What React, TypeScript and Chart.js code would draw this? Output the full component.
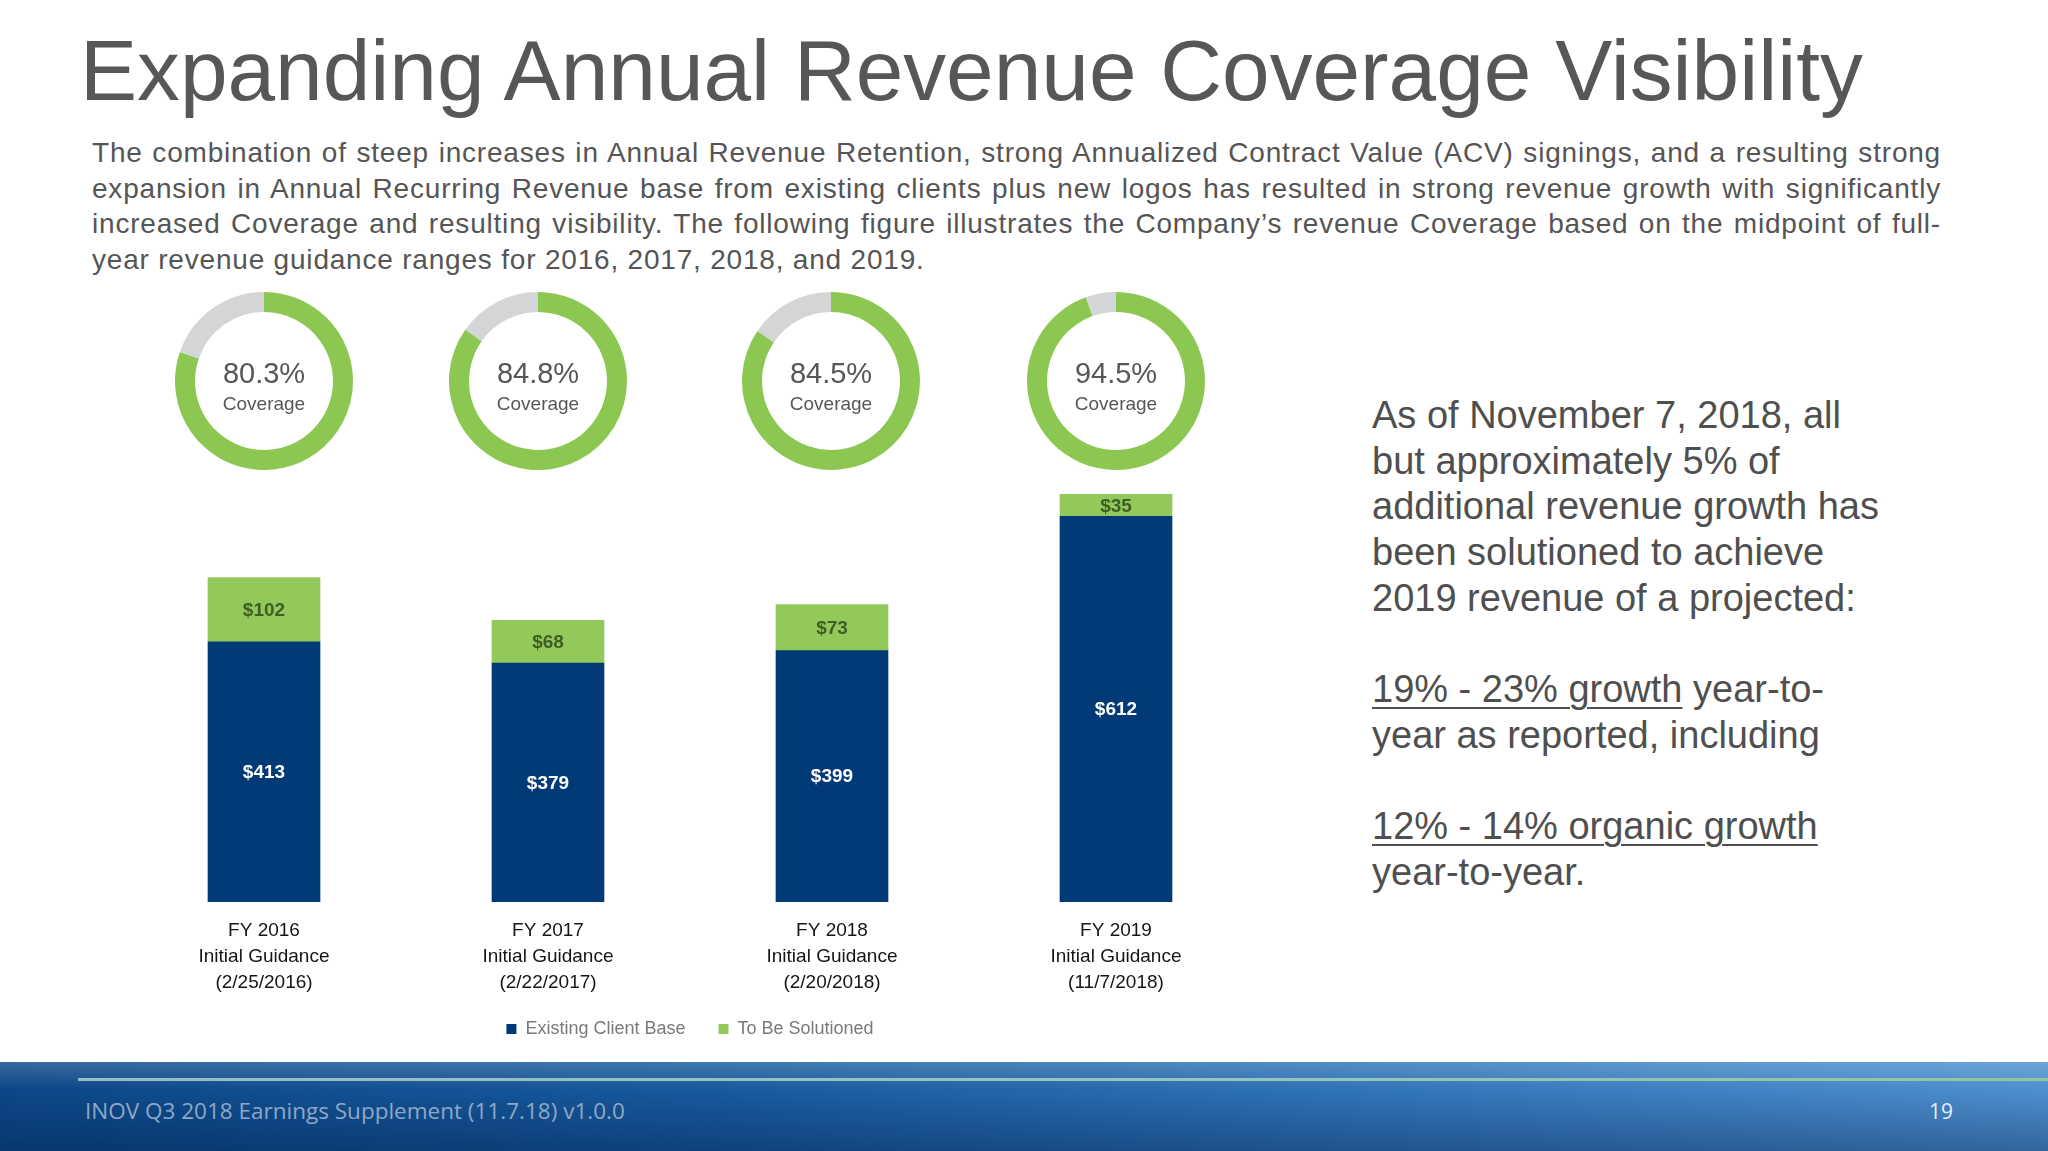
import React, { useEffect, useRef } from "react";
import { Chart, registerables } from "chart.js";

Chart.register(...registerables);

// ---------- data ----------
const categories: string[][] = [
  ["FY 2016", "Initial Guidance", "(2/25/2016)"],
  ["FY 2017", "Initial Guidance", "(2/22/2017)"],
  ["FY 2018", "Initial Guidance", "(2/20/2018)"],
  ["FY 2019", "Initial Guidance", "(11/7/2018)"],
];
const existingClientBase = [413, 379, 399, 612];
const toBeSolutioned = [102, 68, 73, 35];
const coveragePct = [80.3, 84.8, 84.5, 94.5];
const seriesNames = ["Existing Client Base", "To Be Solutioned"];

const paragraphLines = [
  "The combination of steep increases in Annual Revenue Retention, strong Annualized Contract Value (ACV) signings, and a resulting strong",
  "expansion in Annual Recurring Revenue base from existing clients plus new logos has resulted in strong revenue growth with significantly",
  "increased Coverage and resulting visibility. The following figure illustrates the Company\u2019s revenue Coverage based on the midpoint of full-",
  "year revenue guidance ranges for 2016, 2017, 2018, and 2019.",
];

// ---------- styles ----------
const FONT = '"Liberation Sans", Arial, Helvetica, sans-serif';
const NAVY = "#023A78";
const GREEN_BAR = "#93C95B";
const GREEN_DONUT = "#8CC751";
const GRAY_DONUT = "#D3D5D7";

const donutCenters = [
  { x: 264, y: 381 },
  { x: 538, y: 381 },
  { x: 831, y: 381 },
  { x: 1116, y: 381 },
];
const DONUT_SIZE = 178;

const barLabelPlugin = {
  id: "barLabels",
  afterDatasetsDraw(chart: any) {
    const ctx = chart.ctx;
    chart.data.datasets.forEach((ds: any, di: number) => {
      const meta = chart.getDatasetMeta(di);
      meta.data.forEach((bar: any, i: number) => {
        const { x, y, base } = bar.getProps(["x", "y", "base"], true);
        ctx.save();
        ctx.font = `bold 19px ${FONT}`;
        ctx.fillStyle = di === 0 ? "#FFFFFF" : "#3F5E25";
        ctx.textAlign = "center";
        ctx.textBaseline = "middle";
        ctx.fillText("$" + ds.data[i], x, (y + base) / 2 + 1);
        ctx.restore();
      });
    });
  },
};

const donutTextPlugin = {
  id: "donutText",
  afterDraw(chart: any) {
    const ctx = chart.ctx;
    const meta = chart.getDatasetMeta(0);
    const arc = meta.data[0];
    if (!arc) return;
    const cx = arc.x;
    const cy = arc.y;
    const pct = chart.data.datasets[0].data[0];
    ctx.save();
    ctx.fillStyle = "#575757";
    ctx.textAlign = "center";
    ctx.textBaseline = "middle";
    ctx.font = `29px ${FONT}`;
    ctx.fillText(pct.toFixed(1) + "%", cx, cy - 6);
    ctx.font = `19px ${FONT}`;
    ctx.fillText("Coverage", cx, cy + 24);
    ctx.restore();
  },
};

function Donut({ pct, cx, cy }: { pct: number; cx: number; cy: number }) {
  const ref = useRef<HTMLCanvasElement>(null);
  useEffect(() => {
    if (!ref.current) return;
    const chart = new Chart(ref.current, {
      type: "doughnut",
      data: {
        labels: ["Coverage", "Remaining"],
        datasets: [
          {
            data: [pct, +(100 - pct).toFixed(1)],
            backgroundColor: [GREEN_DONUT, GRAY_DONUT],
            borderWidth: 0,
          },
        ],
      },
      options: {
        responsive: false,
        animation: false,
        cutout: "77.5%",
        plugins: { legend: { display: false }, tooltip: { enabled: false } },
      },
      plugins: [donutTextPlugin],
    });
    return () => chart.destroy();
  }, [pct]);
  return (
    <canvas
      ref={ref}
      width={DONUT_SIZE}
      height={DONUT_SIZE}
      style={{
        position: "absolute",
        left: cx - DONUT_SIZE / 2,
        top: cy - DONUT_SIZE / 2,
        width: DONUT_SIZE,
        height: DONUT_SIZE,
      }}
    />
  );
}

const BAR_W = 1136;
const BAR_H = 587;

function BarChart() {
  const ref = useRef<HTMLCanvasElement>(null);
  useEffect(() => {
    if (!ref.current) return;
    const chart = new Chart(ref.current, {
      type: "bar",
      data: {
        labels: categories,
        datasets: [
          {
            label: seriesNames[0],
            data: existingClientBase,
            backgroundColor: NAVY,
            stack: "s",
            barThickness: 112,
          },
          {
            label: seriesNames[1],
            data: toBeSolutioned,
            backgroundColor: GREEN_BAR,
            stack: "s",
            barThickness: 112,
          },
        ],
      },
      options: {
        responsive: false,
        animation: false,
        layout: { padding: 0 },
        scales: {
          x: {
            stacked: true,
            grid: { display: false, drawTicks: false },
            border: { display: false },
            ticks: {
              color: "#151515",
              font: { family: FONT, size: 19, lineHeight: 1.37 },
              padding: 16,
              maxRotation: 0,
              autoSkip: false,
            },
          },
          y: { stacked: true, display: false, min: 0, max: 700 },
        },
        plugins: {
          legend: {
            position: "bottom",
            labels: {
              boxWidth: 10,
              boxHeight: 10,
              color: "#7A7A7A",
              font: { family: FONT, size: 18 },
              padding: 8,
              generateLabels(c: any) {
                const items = Chart.defaults.plugins.legend.labels.generateLabels(c);
                if (items[0]) items[0].text = items[0].text + "     ";
                return items;
              },
            },
          },
          tooltip: { enabled: false },
        },
      },
      plugins: [barLabelPlugin],
    });
    return () => chart.destroy();
  }, []);
  return (
    <canvas
      ref={ref}
      width={BAR_W}
      height={BAR_H}
      style={{ position: "absolute", left: 122, top: 461, width: BAR_W, height: BAR_H }}
    />
  );
}

export default function App() {
  useEffect(() => {
    document.body.style.margin = "0";
    document.body.style.overflow = "hidden";
  }, []);

  const ul: React.CSSProperties = {
    textDecoration: "underline",
    textDecorationThickness: 2,
    textUnderlineOffset: 5,
  };

  const rightLines: React.ReactNode[] = [
    "As of November 7, 2018, all",
    "but approximately 5% of",
    "additional revenue growth has",
    "been solutioned to achieve",
    "2019 revenue of a projected:",
    "",
    <>
      <span style={ul}>19% - 23% growth</span> year-to-
    </>,
    "year as reported, including",
    "",
    <span style={ul}>12% - 14% organic growth</span>,
    "year-to-year.",
  ];

  return (
    <div
      style={{
        position: "absolute",
        left: 0,
        top: 0,
        width: 2048,
        height: 1151,
        overflow: "hidden",
        background: "#FFFFFF",
        fontFamily: FONT,
      }}
    >
      {/* Title */}
      <div
        style={{
          position: "absolute",
          left: 80,
          top: 28,
          fontSize: 85.6,
          lineHeight: "85px",
          color: "#575757",
          whiteSpace: "nowrap",
        }}
      >
        Expanding Annual Revenue Coverage Visibility
      </div>

      {/* Paragraph */}
      <div style={{ position: "absolute", left: 92, top: 135, width: 1849, color: "#555555" }}>
        {paragraphLines.map((l, i) => (
          <div
            key={i}
            style={{
              fontSize: 28,
              lineHeight: "35.5px",
              letterSpacing: 0.8,
              whiteSpace: "nowrap",
              textAlign: i < paragraphLines.length - 1 ? "justify" : "left",
              textAlignLast: i < paragraphLines.length - 1 ? "justify" : "left",
            }}
          >
            {l}
          </div>
        ))}
      </div>

      {/* Donuts */}
      {coveragePct.map((p, i) => (
        <Donut key={i} pct={p} cx={donutCenters[i].x} cy={donutCenters[i].y} />
      ))}

      {/* Bar chart */}
      <BarChart />

      {/* Right text */}
      <div style={{ position: "absolute", left: 1372, top: 393, color: "#4F4F4F", fontSize: 38 }}>
        {rightLines.map((l, i) => (
          <div key={i} style={{ height: 45.7, lineHeight: "45.7px", whiteSpace: "nowrap" }}>
            {l}
          </div>
        ))}
      </div>

      {/* Footer */}
      <div
        style={{
          position: "absolute",
          left: 0,
          top: 1062,
          width: 2048,
          height: 89,
          background:
            "linear-gradient(to bottom, rgba(255,255,255,0.18) 0%, rgba(255,255,255,0) 30%, rgba(0,20,60,0.35) 100%), linear-gradient(to right, #0C4888 0%, #175A9E 35%, #2F74B8 65%, #4E90D0 100%)",
        }}
      />
      <div
        style={{
          position: "absolute",
          left: 78,
          top: 1078,
          width: 1970,
          height: 3,
          background:
            "linear-gradient(to right, rgba(175,205,205,0.85) 0%, rgba(160,205,190,0.9) 55%, rgba(150,200,150,0.95) 100%)",
        }}
      />
      <div
        style={{
          position: "absolute",
          left: 85,
          top: 1097,
          fontFamily: '"Open Sans", sans-serif',
          fontSize: 22.5,
          lineHeight: "28px",
          color: "#8DA8C6",
          whiteSpace: "nowrap",
        }}
      >
        INOV Q3 2018 Earnings Supplement (11.7.18) v1.0.0
      </div>
      <div
        style={{
          position: "absolute",
          left: 1929,
          top: 1097,
          fontFamily: '"Open Sans", sans-serif',
          fontSize: 21,
          lineHeight: "28px",
          color: "#E4EEF8",
          whiteSpace: "nowrap",
        }}
      >
        19
      </div>
    </div>
  );
}
